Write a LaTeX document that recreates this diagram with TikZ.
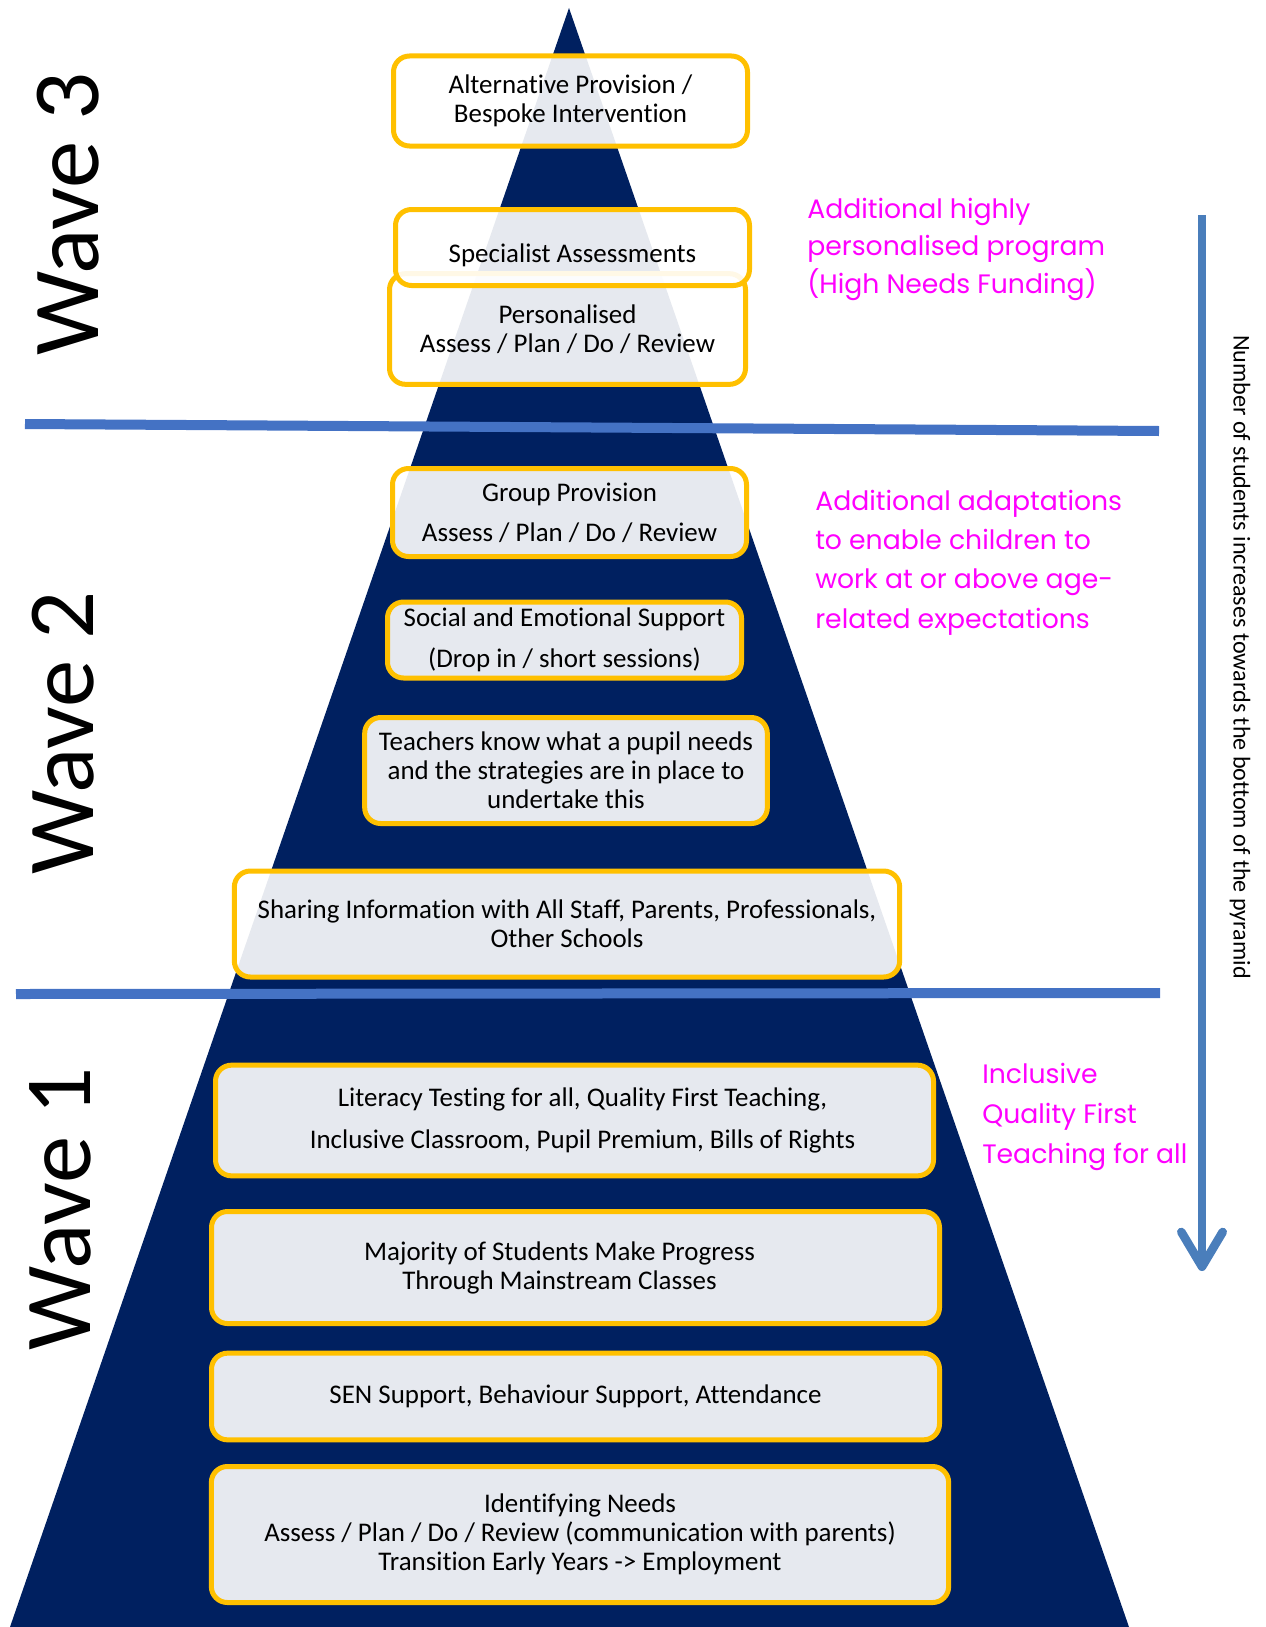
\documentclass[tikz,border=0pt]{standalone}
\usepackage{fontspec}
\setmainfont{Carlito}[Ligatures=NoCommon]
\newfontfamily\popfont{Poppins}
\usetikzlibrary{arrows.meta}

\definecolor{navy}{HTML}{002060}
\definecolor{gold}{HTML}{FFC000}
\definecolor{sepblue}{HTML}{4472C4}
\definecolor{arrowblue}{HTML}{4A7EBB}
\definecolor{hilite}{HTML}{FF00FF}

\newcommand{\boxfont}{\fontsize{20.2}{21.8}\selectfont}

\tikzstyle{stagebox} = [draw=gold, line width=3.75pt, rounded corners=12pt, fill=white, fill opacity=0.9, text opacity=1, align=center, font=\boxfont]
\tikzstyle{wavelabel} = [rotate=90, anchor=base, font=\fontsize{71}{80}\selectfont]
\tikzstyle{sidenote} = [text=hilite, align=left, anchor=base west, inner sep=0pt, font=\popfont\fontsize{20}{29.5}\selectfont]
\tikzstyle{waveline} = [draw=sepblue, line width=7.5pt]

\begin{document}
\begin{tikzpicture}[x=0.75pt, y=-0.75pt]
\useasboundingbox (0,0) rectangle (1266,1627);

% the pyramid
\fill[navy] (569,8) -- (1129,1627) -- (10,1627) -- cycle;

% lines between the waves
\coordinate (sep1a) at (25,424);
\coordinate (sep1b) at (1159,431);
\coordinate (sep2a) at (16,994);
\coordinate (sep2b) at (1160,993);
\draw[waveline] (sep1a) -- (sep1b);
\draw[waveline] (sep2a) -- (sep2b);

% wave 3
\node[stagebox, minimum width=265.5pt, minimum height=67.5pt] (altprov) at (570.5,101) {Alternative Provision /\\Bespoke Intervention};
\node[stagebox, minimum width=267pt, minimum height=83pt] (personal) at (567.5,329) {Personalised\\Assess / Plan / Do / Review};
\node[stagebox, minimum width=265.5pt, minimum height=57pt] (specialist) at (572.5,247.5) {\raisebox{-6pt}[\height][\depth]{Specialist Assessments}};

% wave 2
\node[stagebox, minimum width=265.5pt, minimum height=66pt] (group) at (569.5,512.5) {Group Provision\\[8pt]Assess / Plan / Do / Review};
\node[stagebox, minimum width=265.5pt, minimum height=57pt] (social) at (564.5,640) {Social and Emotional Support\\[8.5pt](Drop in / short sessions)};
\node[stagebox, minimum width=302pt, minimum height=79.5pt] (teachers) at (566,770.5) {Teachers know what a pupil needs\\and the strategies are in place to\\undertake this};
\node[stagebox, minimum width=499pt, minimum height=79.5pt] (sharing) at (567,924) {Sharing Information with All Staff, Parents, Professionals,\\Other Schools};

% wave 1
\node[stagebox, minimum width=538.5pt, minimum height=83pt] (literacy) at (574.5,1120.5) {\hspace*{12pt}Literacy Testing for all, Quality First Teaching,\\[9.5pt]\hspace*{12pt}Inclusive Classroom, Pupil Premium, Bills of Rights};
\node[stagebox, minimum width=546pt, minimum height=84pt] (majority) at (575.5,1267.5) {Majority of Students Make Progress\hspace*{24pt}\\Through Mainstream Classes\hspace*{24pt}};
\node[stagebox, minimum width=546pt, minimum height=65pt] (sen) at (575.5,1396.5) {SEN Support, Behaviour Support, Attendance};
\node[stagebox, minimum width=553pt, minimum height=102pt] (identify) at (580,1534.5) {Identifying Needs\\Assess / Plan / Do / Review (communication with parents)\\Transition Early Years -> Employment};

% wave names
\node[wavelabel] (wave3) at (98,214) {Wave 3};
\node[wavelabel] (wave2) at (93,733) {Wave 2};
\node[wavelabel] (wave1) at (90,1209) {Wave 1};

% notes on the right
\node[sidenote, font=\popfont\fontsize{20}{28}\selectfont] (note3) at (807,293) {Additional highly\\personalised program\\(High Needs Funding)};
\node[sidenote] (note2) at (815,628) {Additional adaptations\\to enable children to\\work at or above age-\\related expectations};
\node[sidenote, font=\popfont\fontsize{20}{30}\selectfont] (note1) at (982,1163) {Inclusive\\Quality First\\Teaching for all};

% number of students arrow
\coordinate (arrtop) at (1202,215);
\coordinate (arrbot) at (1202,1271);
\draw[arrowblue, line width=6.5pt, -{Straight Barb[length=26pt, width=31pt, round]}] (arrtop) -- (arrbot);
\node[rotate=-90, font=\fontsize{18.1}{20}\selectfont] (countnote) at (1240,657) {Number of students increases towards the bottom of the pyramid};
\end{tikzpicture}
\end{document}
